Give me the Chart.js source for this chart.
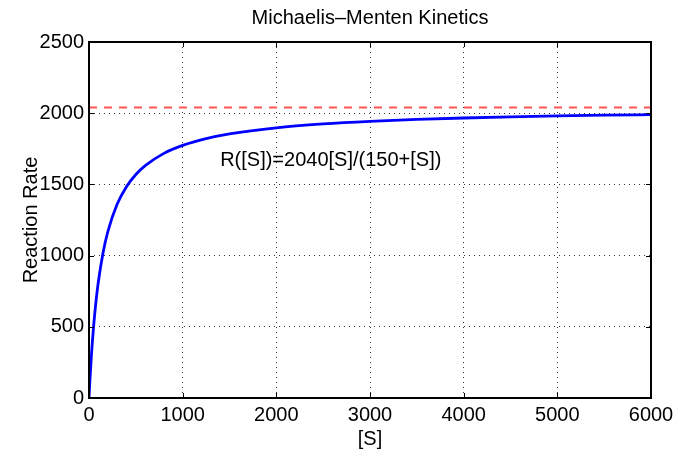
<!DOCTYPE html>
<html>
<head>
<meta charset="utf-8">
<script src="https://cdn.jsdelivr.net/npm/chart.js@4.4.1/dist/chart.umd.min.js"></script>
<style>
  html, body { margin: 0; padding: 0; background: #fff; }
  canvas { display: block; }
</style>
</head>
<body>
<canvas id="mm-chart" width="684" height="451"></canvas>
<script>
// values
const substrate = [0, 5, 10, 20, 25, 35, 50, 75, 100, 150, 200, 300, 400, 500, 600, 800,
  1000, 1250, 1500, 2000, 2500, 3000, 3500, 4000, 4500, 5000, 5500, 6000];
const rate = [0, 65.8, 127.5, 240, 291.4, 385.9, 510, 680, 816, 1020, 1165.7, 1360, 1483.6, 1569.2, 1632, 1717.9,
  1773.9, 1821.4, 1854.5, 1897.7, 1924.5, 1942.9, 1956.2, 1966.3, 1974.2, 1980.6, 1985.8, 1990.2];
const vmaxLine = [2040, 2040];
const vmaxRange = [0, 6000];
const xTicks = [0, 1000, 2000, 3000, 4000, 5000, 6000];
const yTicks = [0, 500, 1000, 1500, 2000, 2500];
const chartTitle = 'Michaelis\u2013Menten Kinetics';
const xLabel = '[S]';
const yLabel = 'Reaction Rate';
const formulaText = 'R([S])=2040[S]/(150+[S])';
const formulaPos = { x: 1400, y: 1670 };

const FONT = '"Liberation Sans", Arial, Helvetica, sans-serif';
const FONT_SIZE = 20;

const curvePoints = substrate.map((s, i) => ({ x: s, y: rate[i] }));
const vmaxPoints = vmaxRange.map((s, i) => ({ x: s, y: vmaxLine[i] }));

// box round the plot, short inward tick marks, title over the plot and the formula
const boxPlugin = {
  id: 'boxPlugin',
  afterDraw(chart) {
    const { ctx, chartArea: a, scales } = chart;
    ctx.save();
    ctx.strokeStyle = '#000';
    ctx.lineWidth = 1;
    ctx.beginPath();
    for (const v of xTicks) {
      const px = Math.round(scales.x.getPixelForValue(v)) + 0.5;
      ctx.moveTo(px, a.bottom); ctx.lineTo(px, a.bottom - 5);
      ctx.moveTo(px, a.top); ctx.lineTo(px, a.top + 5);
    }
    for (const v of yTicks) {
      const py = Math.round(scales.y.getPixelForValue(v)) + 0.5;
      ctx.moveTo(a.left, py); ctx.lineTo(a.left + 5, py);
      ctx.moveTo(a.right, py); ctx.lineTo(a.right - 5, py);
    }
    ctx.stroke();
    ctx.lineWidth = 2;
    ctx.strokeRect(a.left, a.top, a.right - a.left, a.bottom - a.top);

    ctx.fillStyle = '#000';
    ctx.font = FONT_SIZE + 'px ' + FONT;
    ctx.textBaseline = 'middle';
    ctx.textAlign = 'center';
    ctx.fillText(chartTitle, (a.left + a.right) / 2, 18);
    ctx.textAlign = 'left';
    ctx.fillText(formulaText, scales.x.getPixelForValue(formulaPos.x), scales.y.getPixelForValue(formulaPos.y));
    ctx.restore();
  }
};

const ctx = document.getElementById('mm-chart').getContext('2d');

new Chart(ctx, {
  type: 'scatter',
  data: {
    datasets: [
      {
        label: 'vmax',
        data: vmaxPoints,
        showLine: true,
        borderColor: 'rgb(255, 85, 85)',
        borderWidth: 2,
        borderDash: [8, 7],
        pointRadius: 0,
      },
      {
        label: 'R([S])',
        data: curvePoints,
        showLine: true,
        borderColor: '#0000ff',
        borderWidth: 2.8,
        cubicInterpolationMode: 'monotone',
        pointRadius: 0,
      },
    ],
  },
  options: {
    responsive: false,
    animation: false,
    layout: { padding: { left: 0, right: 33, top: 42, bottom: 0 } },
    plugins: {
      legend: { display: false },
      tooltip: { enabled: false },
      title: { display: false },
    },
    scales: {
      x: {
        type: 'linear',
        min: 0,
        max: 6000,
        afterBuildTicks: (scale) => { scale.ticks = xTicks.map((v) => ({ value: v })); },
        afterFit: (scale) => { scale.height = 53; },
        ticks: { color: '#000', font: { family: FONT, size: FONT_SIZE }, padding: 5, maxRotation: 0, callback: (v) => String(v) },
        grid: { color: '#333', lineWidth: 1, drawTicks: false },
        border: { display: false, dash: [1, 4] },
        title: { display: true, text: xLabel, color: '#000', font: { family: FONT, size: FONT_SIZE }, padding: { top: 0, bottom: 0 } },
      },
      y: {
        type: 'linear',
        min: 0,
        max: 2500,
        afterBuildTicks: (scale) => { scale.ticks = yTicks.map((v) => ({ value: v })); },
        afterFit: (scale) => { scale.width = 89; },
        ticks: { color: '#000', font: { family: FONT, size: FONT_SIZE }, padding: 5, callback: (v) => String(v) },
        grid: { color: '#333', lineWidth: 1, drawTicks: false },
        border: { display: false, dash: [1, 4] },
        title: { display: true, text: yLabel, color: '#000', font: { family: FONT, size: FONT_SIZE }, padding: { top: 19, bottom: 0 } },
      },
    },
  },
  plugins: [boxPlugin],
});
</script>
</body>
</html>
